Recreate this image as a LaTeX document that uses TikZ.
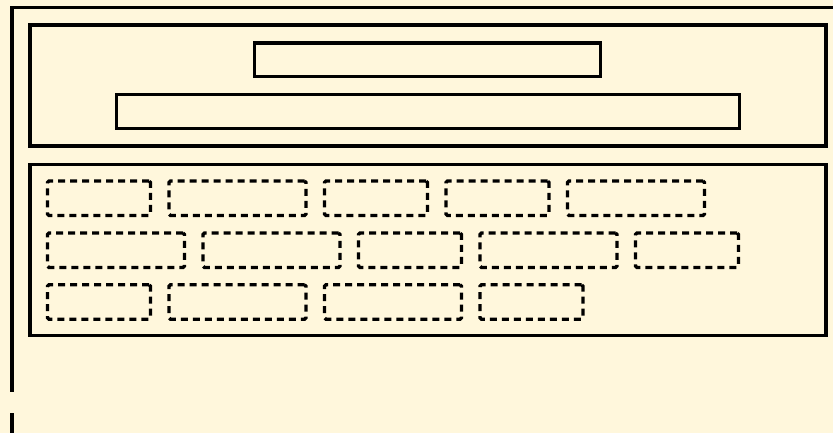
\documentclass[tikz,border=0pt]{standalone}
\usepackage{xcolor}
\usetikzlibrary{positioning}
\definecolor{paper}{RGB}{255,247,220}

\begin{document}
\begin{tikzpicture}[x=1pt,y=-1pt,line width=3.4pt,
  frame/.style={draw, rectangle, inner sep=0pt, outer sep=0pt, anchor=north west},
  slot/.style={draw, rectangle, line width=3.3pt, dash pattern=on 7pt off 5pt,
    rounded corners=1.5pt, inner sep=0pt, outer sep=0pt, minimum height=34.5pt},
  narrowslot/.style={slot, minimum width=103pt},
  wideslot/.style={slot, minimum width=137pt},
  node distance=18.5pt]

 \fill[paper] (0,0) rectangle (833,433);
 \useasboundingbox (0,0) rectangle (833,433);

 \coordinate (TL) at (12,7.7);
 \coordinate (TR) at (833,7.7);
 \coordinate (L1) at (12,392);
 \coordinate (L2) at (12,413);
 \coordinate (L3) at (12,433);

 %outer border:
 \draw[line width=3.2pt] (TR) -- (TL) -- (L1);
 \draw[line width=3.2pt] (L2) -- (L3);

 %upper panel:
 \node[frame, minimum width=796pt, minimum height=121pt] (head) at (30,25) {};
 \node[frame, minimum width=346pt, minimum height=33.5pt] (title) at (254.5,43) {};
 \node[frame, minimum width=623pt, minimum height=34pt] (subtitle) at (116.5,94.5) {};

 %lower panel:
 \node[frame, minimum width=796pt, minimum height=171pt] (body) at (30,164.5) {};

 %row 1
 \node[narrowslot, anchor=north west] (a1) at (47.5,181) {};
 \node[wideslot, right=of a1] (a2) {};
 \node[narrowslot, right=of a2] (a3) {};
 \node[narrowslot, right=of a3] (a4) {};
 \node[wideslot, right=of a4] (a5) {};

 %row 2
 \node[wideslot, anchor=north west] (b1) at (47.5,233) {};
 \node[wideslot, right=of b1] (b2) {};
 \node[narrowslot, right=of b2] (b3) {};
 \node[wideslot, right=of b3] (b4) {};
 \node[narrowslot, right=of b4] (b5) {};

 %row 3
 \node[narrowslot, anchor=north west] (c1) at (47.5,284.8) {};
 \node[wideslot, right=of c1] (c2) {};
 \node[wideslot, right=of c2] (c3) {};
 \node[narrowslot, right=of c3] (c4) {};
\end{tikzpicture}
\end{document}
